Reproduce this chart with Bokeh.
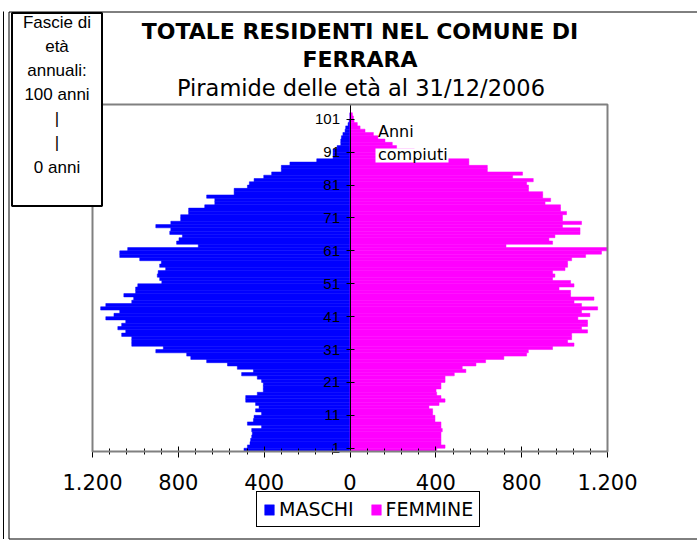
from bokeh.plotting import figure
from bokeh.models import (Range1d, FixedTicker, Legend, LegendItem, Label,
                          BoxAnnotation, LinearAxis, ColumnDataSource)
from bokeh.embed import file_html
from bokeh.resources import INLINE

# ---------------- data ----------------
ages = list(range(103))  # bar index (0 = bottom bar)

male = [494, 478, 466, 463, 458, 455, 458, 412, 478, 450,
        447, 412, 440, 424, 440, 486, 486, 432, 404, 404,
        404, 412, 432, 505, 450, 525, 571, 668, 742, 761,
        905, 870, 1017, 1017, 1017, 1064, 1045, 1082, 1064, 1045,
        1138, 1100, 1073, 1162, 1138, 1017, 1008, 1054, 999, 999,
        989, 877, 887, 898, 894, 859, 887, 879, 980, 1073,
        1073, 1036, 707, 808, 797, 781, 840, 835, 905, 835,
        789, 789, 752, 752, 677, 630, 630, 668, 540, 540,
        478, 469, 447, 402, 365, 320, 320, 280, 155, 79,
        79, 79, 60, 43, 43, 40, 33, 23, 20, 9,
        4, 0, 0]

female = [404, 443, 424, 424, 424, 424, 430, 424, 424, 396,
          396, 385, 385, 368, 415, 443, 424, 404, 401, 424,
          424, 443, 443, 486, 540, 523, 587, 632, 717, 823,
          831, 944, 1044, 1014, 1033, 1033, 1107, 1079, 1107, 1107,
          1062, 1118, 1079, 1154, 1079, 1044, 1137, 1028, 1028, 974,
          1044, 1028, 944, 955, 944, 1002, 1014, 1014, 1033, 1098,
          1172, 1200, 727, 944, 927, 955, 1072, 1072, 990, 1079,
          990, 990, 1009, 981, 981, 909, 935, 898, 898, 832,
          832, 823, 854, 758, 804, 640, 640, 554, 554, 450,
          380, 300, 217, 197, 163, 130, 109, 70, 47, 34,
          19, 16, 11]

y_ticks = [1, 11, 21, 31, 41, 51, 61, 71, 81, 91, 101]
x_ticks = [-1200, -800, -400, 0, 400, 800, 1200]
x_tick_labels = ["1.200", "800", "400", "0", "400", "800", "1.200"]
x_minor_ticks = [-1200 + 80 * k for k in range(31)]
series_names = ["MASCHI", "FEMMINE"]
title_lines = ["TOTALE RESIDENTI NEL COMUNE DI", "FERRARA"]
subtitle = "Piramide delle età al 31/12/2006"
box_lines = ["Fascie di", "età", "annuali:", "100 anni", "|", "|", "0 anni"]
note_lines = ["Anni", "compiuti"]

BLUE = "#0000FF"
MAGENTA = "#FF00FF"

X_MIN, X_MAX = -1200, 1200
Y_MIN, Y_MAX = 0, 105.5


# page-pixel -> data helpers (used only to place decorations / the canvas extent)
def X(px):
    return (px - 349.5) * (X_MAX - X_MIN) / 515.0


def Y(py):
    return (451.0 - py) * (Y_MAX - Y_MIN) / 347.0


W, H = 697, 541
p = figure(width=W, height=H, x_range=Range1d(X(0), X(W)), y_range=Range1d(Y(H), Y(0)),
           output_backend="svg", toolbar_location=None, title=None,
           x_axis_location=None, y_axis_location=None,
           min_border_left=0, min_border_right=0, min_border_top=0, min_border_bottom=0)
p.xgrid.visible = False
p.ygrid.visible = False
p.outline_line_color = None
p.background_fill_color = "white"
p.border_fill_color = "white"

# outer chart frame lines
p.add_layout(BoxAnnotation(left=X(8.5), right=X(760), top=Y(11.5), bottom=Y(538.5),
                           fill_alpha=0, line_color="black", line_alpha=1, line_width=1))
p.add_layout(BoxAnnotation(left=X(2.5), right=X(3.5), top=Y(11), bottom=Y(538.5),
                           fill_color="black", fill_alpha=1, line_alpha=0))

# plot area (grey outline)
p.add_layout(BoxAnnotation(left=X_MIN, right=X_MAX, top=Y_MAX, bottom=Y_MIN,
                           fill_alpha=0, line_color="#808080", line_alpha=1, line_width=2))

src = ColumnDataSource(dict(
    yc=[a + 0.5 for a in ages],
    mleft=[-v for v in male],
    fright=female,
))
r_m = p.hbar(y="yc", left="mleft", right=0, height=1, source=src,
             fill_color=BLUE, line_color=BLUE, line_width=0.5)
r_f = p.hbar(y="yc", left=0, right="fright", height=1, source=src,
             fill_color=MAGENTA, line_color=MAGENTA, line_width=0.5)

# x axis (at the bottom of the plot area)
xaxis = LinearAxis(ticker=FixedTicker(ticks=x_ticks, minor_ticks=x_minor_ticks),
                   major_label_overrides={t: l for t, l in zip(x_ticks, x_tick_labels)},
                   fixed_location=Y_MIN, bounds=(X_MIN, X_MAX))
xaxis.axis_line_color = "black"
xaxis.major_tick_line_color = "black"
xaxis.minor_tick_line_color = "black"
xaxis.major_tick_in = 5
xaxis.major_tick_out = 6
xaxis.minor_tick_in = 3
xaxis.minor_tick_out = 3
xaxis.major_label_standoff = 16
xaxis.major_label_text_font = "DejaVu Sans"
xaxis.major_label_text_font_size = "21px"
xaxis.major_label_text_color = "black"
p.add_layout(xaxis, "below")

# y axis at x = 0
yaxis = LinearAxis(ticker=FixedTicker(ticks=y_ticks, minor_ticks=[]), fixed_location=0,
                   bounds=(Y_MIN, Y_MAX))
yaxis.axis_line_color = "black"
yaxis.major_tick_line_color = "black"
yaxis.major_tick_in = 4
yaxis.major_tick_out = 4
yaxis.minor_tick_line_color = None
yaxis.major_label_standoff = 6
yaxis.major_label_text_font = "Liberation Sans"
yaxis.major_label_text_font_size = "15px"
yaxis.major_label_text_color = "black"
p.add_layout(yaxis, "left")

# left note box
p.add_layout(BoxAnnotation(left=X(11.5), right=X(101.5), top=Y(12.5), bottom=Y(205.5),
                           fill_color="white", fill_alpha=1, line_color="black",
                           line_alpha=1, line_width=2))
box_centers = [22, 46, 70, 94, 118, 142, 167]
for t, cy in zip(box_lines, box_centers):
    p.add_layout(Label(x=X(56.5), y=Y(cy), text=t, text_align="center",
                       text_baseline="middle", text_font="Liberation Sans",
                       text_font_size="17px", text_color="black"))

# titles
p.add_layout(Label(x=X(359.5), y=Y(31), text=title_lines[0], text_align="center",
                   text_baseline="middle", text_font="DejaVu Sans", text_font_style="bold",
                   text_font_size="22px", text_color="black"))
p.add_layout(Label(x=X(359.5), y=Y(59), text=title_lines[1], text_align="center",
                   text_baseline="middle", text_font="DejaVu Sans", text_font_style="bold",
                   text_font_size="22px", text_color="black"))
p.add_layout(Label(x=X(360.5), y=Y(87), text=subtitle, text_align="center",
                   text_baseline="middle", text_font="DejaVu Sans",
                   text_font_size="22.5px", text_color="black"))

# "Anni compiuti" note (white text box over bars)
p.add_layout(BoxAnnotation(left=X(375), right=X(448), top=Y(148), bottom=Y(162),
                           fill_color="white", fill_alpha=1, line_alpha=0))
p.add_layout(Label(x=X(377.5), y=Y(131), text=note_lines[0], text_align="left",
                   text_baseline="middle", text_font="DejaVu Sans",
                   text_font_size="16px", text_color="black"))
p.add_layout(Label(x=X(377.5), y=Y(154), text=note_lines[1], text_align="left",
                   text_baseline="middle", text_font="DejaVu Sans",
                   text_font_size="16px", text_color="black"))

# legend
legend = Legend(items=[LegendItem(label=series_names[0], renderers=[r_m]),
                       LegendItem(label=series_names[1], renderers=[r_f])],
                location=(256, H - 527), orientation="horizontal")
legend.border_line_color = "black"
legend.border_line_width = 1
legend.border_line_alpha = 1
legend.background_fill_color = "white"
legend.background_fill_alpha = 1
legend.padding = 6
legend.spacing = 16
legend.label_standoff = 4
legend.glyph_width = 12
legend.glyph_height = 13
legend.label_text_font = "DejaVu Sans"
legend.label_text_font_size = "19px"
legend.label_text_color = "black"
legend.margin = 0
p.add_layout(legend, "center")

open("out.html", "w").write(file_html(p, INLINE))
